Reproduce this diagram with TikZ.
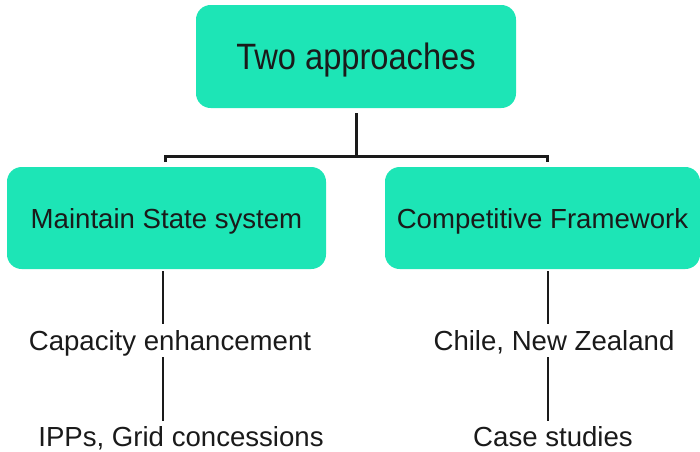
\documentclass[tikz,border=0pt]{standalone}
\usepackage{fontspec}
\setmainfont{Liberation Sans}
\newfontfamily\topfont[FakeStretch=0.89]{Liberation Sans}
\definecolor{boxfill}{RGB}{29,229,182}
\definecolor{ink}{RGB}{26,26,26}
\begin{document}
\begin{tikzpicture}[x=0.75pt,y=-0.75pt,
  box/.style={fill=boxfill, rounded corners=11pt, inner sep=0pt, text=ink},
  midtext/.style={font=\fontsize{20.7}{24}\selectfont, text height=15pt, text depth=0pt},
  leaf/.style={inner sep=0pt, anchor=base, text=ink, font=\fontsize{20.7}{24}\selectfont, text height=15pt, text depth=4.5pt},
  bracket/.style={draw=ink, line width=2.25pt},
  link/.style={draw=ink, line width=2pt}]
\useasboundingbox (0,0) rectangle (700,451);
% boxes
\node[box, minimum width=240pt, minimum height=77.25pt, font=\topfont\fontsize{27.5}{32}\selectfont, text height=19.9pt, text depth=0pt] (top) at (356,56.5) {Two approaches};
\node[box, midtext, minimum width=239.25pt, minimum height=76.5pt] (lbox) at (166.5,218) {Maintain State system};
\node[box, midtext, minimum width=236.25pt, minimum height=76.5pt] (rbox) at (542.5,218) {Competitive Framework};
% leaf texts
\node[leaf] (cap) at (170,350) {Capacity enhancement};
\node[leaf] (ipp) at (181,446) {IPPs, Grid concessions};
\node[leaf] (chile) at (554,350) {Chile, New Zealand};
\node[leaf] (case) at (553,446) {Case studies};
% bracket
\coordinate (bar) at (356,156);
\coordinate (bl) at (165,162);
\coordinate (br) at (547,162);
\draw[bracket, shorten <=3.75pt] (top.south) -- (top.south |- bar);
\draw[bracket] (bl) -- (bl |- bar) -- (br |- bar) -- (br);
% lower connectors
\coordinate (lx) at (163,0);
\coordinate (rx) at (548,0);
\draw[link, shorten <=1.5pt, shorten >=4.5pt] (lx |- lbox.south) -- (lx |- cap.north);
\draw[link, shorten <=0.75pt, shorten >=3.75pt] (lx |- cap.south) -- (lx |- ipp.north);
\draw[link, shorten <=1.5pt, shorten >=4.5pt] (rx |- rbox.south) -- (rx |- chile.north);
\draw[link, shorten <=0.75pt, shorten >=3.75pt] (rx |- chile.south) -- (rx |- case.north);
\end{tikzpicture}
\end{document}
